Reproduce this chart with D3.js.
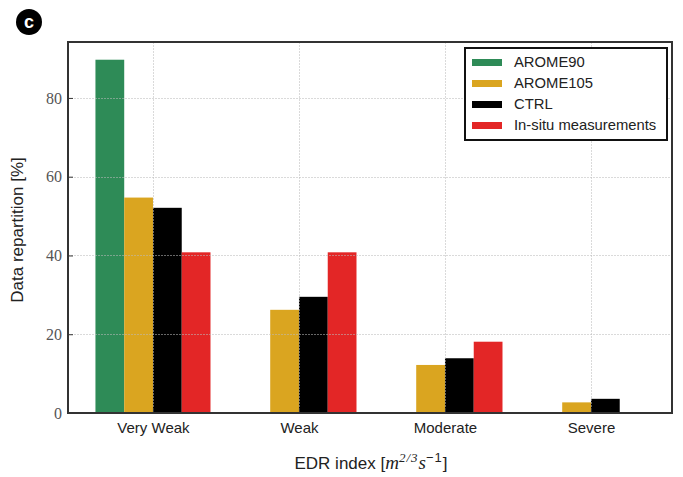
<!DOCTYPE html>
<html>
<head>
<meta charset="utf-8">
<script src="https://cdn.jsdelivr.net/npm/d3@7"></script>
<style>
  body { margin: 0; background: #fff; }
  svg { display: block; }
</style>
</head>
<body>
<div id="vizcont"></div>
<script>
// categories and series
var categories = ["Very Weak", "Weak", "Moderate", "Severe"];
var seriesNames = ["AROME90", "AROME105", "CTRL", "In-situ measurements"];
var arome90 = [89.7, 0, 0, 0];
var arome105 = [54.7, 26.2, 12.2, 2.7];
var ctrl = [52.1, 29.5, 13.9, 3.6];
var insitu = [40.8, 40.8, 18.1, 0];
var yTicks = [0, 20, 40, 60, 80];
var colors = ["#2e8b57", "#daa520", "#000000", "#e32626"];

var seriesValues = [arome90, arome105, ctrl, insitu];

var W = 683, H = 477;
var margin = {top: 42, right: 11, bottom: 64, left: 68};
var width = W - margin.left - margin.right;
var height = H - margin.top - margin.bottom;

var svg = d3.select("#vizcont")
    .append("svg")
    .attr("width", W)
    .attr("height", H);

var g = svg.append("g")
    .attr("transform", "translate(" + margin.left + "," + margin.top + ")");

// x is on category index, like matplotlib bar positions
var x = d3.scaleLinear()
    .domain([-0.582, 3.555])
    .range([0, width]);

var y = d3.scaleLinear()
    .domain([0, 94.2])
    .range([height, 0]);

var barW = 0.197;

// bars
seriesValues.forEach(function(vals, s) {
    g.append("g")
        .selectAll("rect")
        .data(vals)
        .enter()
        .append("rect")
        .attr("x", function(d, i) { return x(i + (s - 2) * barW); })
        .attr("width", x(barW) - x(0))
        .attr("y", function(d) { return y(d); })
        .attr("height", function(d) { return height - y(d); })
        .attr("fill", colors[s]);
});

// grid (drawn over bars, as in the figure)
var grid = g.append("g").attr("stroke", "#bbb").attr("stroke-opacity", 0.55)
    .attr("stroke-width", 1).attr("stroke-dasharray", "2,1");
grid.selectAll("line.h")
    .data(yTicks.slice(1))
    .enter().append("line")
    .attr("x1", 0).attr("x2", width)
    .attr("y1", function(d) { return Math.round(y(d)) + 0.5; })
    .attr("y2", function(d) { return Math.round(y(d)) + 0.5; });
grid.selectAll("line.v")
    .data(categories)
    .enter().append("line")
    .attr("y1", 0).attr("y2", height)
    .attr("x1", function(d, i) { return Math.round(x(i)) + 0.5; })
    .attr("x2", function(d, i) { return Math.round(x(i)) + 0.5; });

// y axis
var yAxis = g.append("g")
    .call(d3.axisLeft(y).tickValues(yTicks).tickSizeInner(-5).tickSizeOuter(0).tickPadding(6));
yAxis.select(".domain").remove();
yAxis.selectAll("line").attr("stroke", "#333");
yAxis.selectAll("text")
    .style("font", "16px 'Liberation Serif', 'DejaVu Serif', serif")
    .attr("fill", "#555");

// x axis
var xAxis = g.append("g")
    .attr("transform", "translate(0," + height + ")")
    .call(d3.axisBottom(x).tickValues([0, 1, 2, 3])
        .tickFormat(function(d) { return categories[d]; })
        .tickSizeInner(-5).tickSizeOuter(0).tickPadding(9));
xAxis.select(".domain").remove();
xAxis.selectAll("line").attr("stroke", "#333");
xAxis.selectAll("text")
    .style("font", "15px 'Liberation Sans', Arial, sans-serif")
    .attr("fill", "#222");

// frame
g.append("rect")
    .attr("x", 0).attr("y", 0)
    .attr("width", width).attr("height", height)
    .attr("fill", "none")
    .attr("stroke", "#333")
    .attr("stroke-width", 2);

// axis labels
svg.append("text")
    .attr("transform", "translate(23," + 230 + ") rotate(-90)")
    .attr("text-anchor", "middle")
    .style("font", "17px 'Liberation Sans', Arial, sans-serif")
    .attr("fill", "#222")
    .text("Data repartition [%]");

var xl = svg.append("text")
    .attr("x", 371).attr("y", 469)
    .attr("text-anchor", "middle")
    .style("font", "17px 'Liberation Sans', Arial, sans-serif")
    .attr("fill", "#222");
xl.append("tspan").text("EDR index [");
xl.append("tspan").style("font-style", "italic").style("font-family", "'Liberation Serif', serif")
    .style("font-size", "19px").text("m");
xl.append("tspan").attr("dy", -7).style("font-size", "13px").style("font-style", "italic")
    .style("font-family", "'Liberation Serif', serif").style("letter-spacing", "1px").text("2/3");
xl.append("tspan").attr("dy", 7).style("font-style", "italic").style("font-family", "'Liberation Serif', serif")
    .style("font-size", "19px").text("s");
xl.append("tspan").attr("dy", -7).style("font-size", "13px").style("letter-spacing", "1px").text("\u22121");
xl.append("tspan").attr("dy", 7).text("]");

// legend
var legend = svg.append("g")
    .attr("transform", "translate(465,48)");
legend.append("rect")
    .attr("width", 202).attr("height", 92)
    .attr("fill", "#fff")
    .attr("stroke", "#111")
    .attr("stroke-width", 2);
var items = legend.selectAll("g.item")
    .data(seriesNames)
    .enter().append("g")
    .attr("transform", function(d, i) { return "translate(0," + (14 + i * 21) + ")"; });
items.append("rect")
    .attr("x", 7).attr("y", -3)
    .attr("width", 30).attr("height", 7)
    .attr("fill", function(d, i) { return colors[i]; });
items.append("text")
    .attr("x", 49).attr("y", 0).attr("dy", "0.35em")
    .style("font", "14.8px 'Liberation Sans', Arial, sans-serif")
    .attr("fill", "#222")
    .text(function(d) { return d; });

// panel badge
svg.append("circle")
    .attr("cx", 29).attr("cy", 22).attr("r", 13)
    .attr("fill", "#000");
svg.append("text")
    .attr("x", 29).attr("y", 22).attr("dy", "0.35em")
    .attr("text-anchor", "middle")
    .style("font", "bold 18px 'Liberation Sans', Arial, sans-serif")
    .attr("fill", "#fff")
    .text("c");
</script>
</body>
</html>
